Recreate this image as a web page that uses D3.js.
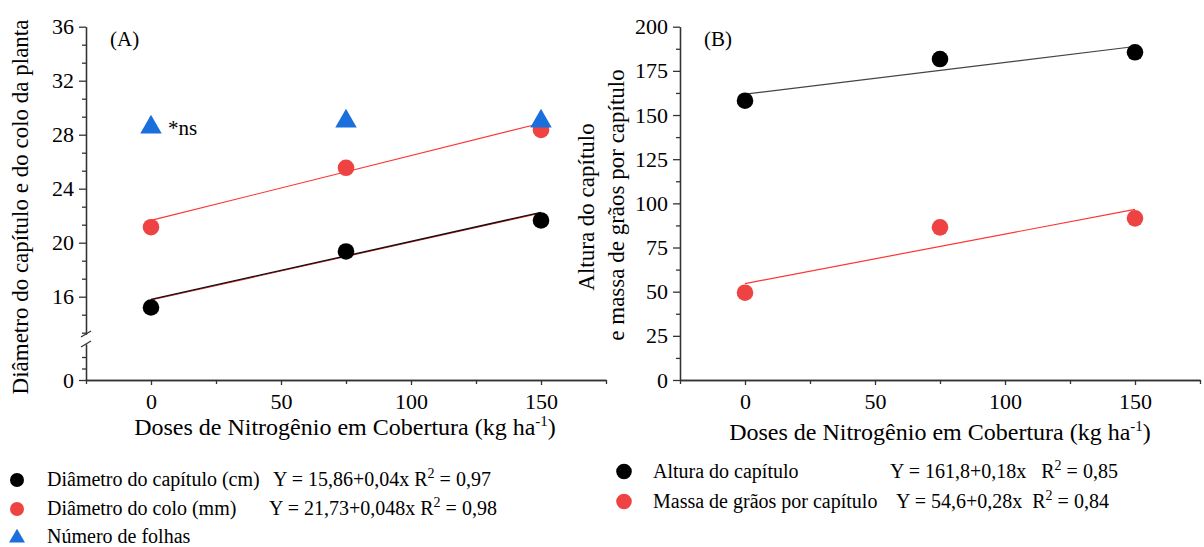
<!DOCTYPE html>
<html>
<head>
<meta charset="utf-8">
<script src="https://cdn.jsdelivr.net/npm/d3@7"></script>
<style>
body { margin: 0; background: #fff; }
svg text { font-family: "Liberation Serif", "Times New Roman", serif; fill: #000; }
.axis path, .axis line { stroke: #333; stroke-width: 1.3; }
</style>
</head>
<body>
<div id="chart"></div>
<script>
// doses (kg ha-1)
var doses = [0, 75, 150];
// panel A
var diamCapitulo = [15.2, 19.35, 21.65];
var diamColo = [21.15, 25.55, 28.35];
var numFolhas = [28.55, 29.0, 29.0];
var fitCapitulo = [15.8, 22.25];
var fitColo = [21.65, 28.85];
// panel B
var alturaCapitulo = [158.1, 181.7, 185.5];
var massaGraos = [49.4, 86.4, 91.5];
var fitAltura = [161.8, 188.8];
var fitMassa = [54.6, 96.6];
// ticks
var xTicks = [0, 50, 100, 150];
var xMinor = [-25, 25, 75, 125, 175];
var yTicksA = [16, 20, 24, 28, 32, 36];
var yTicksB = [0, 25, 50, 75, 100, 125, 150, 175, 200];
// legends
var legendA = ["Diâmetro do capítulo (cm)", "Diâmetro do colo (mm)", "Número de folhas"];
var eqA = [["Y = 15,86+0,04x R", " = 0,97"], ["Y = 21,73+0,048x R", " = 0,98"]];
var legendB = ["Altura do capítulo", "Massa de grãos por capítulo"];
var eqB = [["Y = 161,8+0,18x   R", " = 0,85"], ["Y = 54,6+0,28x  R", " = 0,84"]];

var width = 1204, height = 547;
var black = "#000", red = "#ef4343", blue = "#1b6fdc";
var serif = "'Liberation Serif', 'Times New Roman', serif";

var svg = d3.select("#chart").append("svg")
    .attr("width", width)
    .attr("height", height)
    .attr("font-family", serif);

// ---------- panel A ----------
var xA = d3.scaleLinear().domain([-25, 175]).range([86, 606]);
var yA = d3.scaleLinear().domain([16, 36]).range([296.7, 26.7]);
var breakTop = 334, breakBot = 344;
var yAaxis = yA.copy().domain([yA.invert(breakTop), 36]).range([breakTop, 26.7]);
var yLow = d3.scaleLinear().domain([0, 3]).range([380, 345.5]);
var yLowAxis = yLow.copy().domain([0, yLow.invert(breakBot)]).range([380, breakBot]);

function styleAxis(g, size) {
    g.attr("class", "axis").attr("font-family", serif).attr("font-size", size);
    g.selectAll("text").style("font-size", size + "px").style("fill", "#000")
        .style("font-family", serif);
}

var minorA = d3.range(36, 13, -4 / 3).filter(function (v) {
    return Math.abs(v - Math.round(v / 4) * 4) > 0.01;
});

svg.append("g").attr("transform", "translate(86,0)")
    .call(d3.axisLeft(yAaxis).tickValues(yTicksA).tickSize(7).tickSizeOuter(0).tickPadding(5))
    .call(styleAxis, 22);
svg.append("g").attr("transform", "translate(86,0)")
    .call(d3.axisLeft(yAaxis).tickValues(minorA).tickSize(4).tickSizeOuter(0).tickFormat(""))
    .call(styleAxis, 22);
svg.append("g").attr("transform", "translate(86,0)")
    .call(d3.axisLeft(yLowAxis).tickValues([0]).tickFormat(d3.format("d"))
        .tickSize(7).tickSizeOuter(0).tickPadding(5))
    .call(styleAxis, 22);
svg.append("g").attr("transform", "translate(86,0)")
    .call(d3.axisLeft(yLowAxis).tickValues([1, 2]).tickSize(4).tickSizeOuter(0).tickFormat(""))
    .call(styleAxis, 22);

// break marks
[breakTop, breakBot].forEach(function (by) {
    svg.append("line")
        .attr("x1", 81).attr("y1", by + 3)
        .attr("x2", 91).attr("y2", by - 3)
        .attr("stroke", "#333").attr("stroke-width", 1.3);
});

svg.append("g").attr("transform", "translate(0,380)")
    .call(d3.axisBottom(xA).tickValues(xTicks).tickSize(5).tickSizeOuter(0).tickPadding(8))
    .call(styleAxis, 22);
svg.append("g").attr("transform", "translate(0,380)")
    .call(d3.axisBottom(xA).tickValues(xMinor).tickSize(4).tickSizeOuter(0).tickFormat(""))
    .call(styleAxis, 22);

// fitted lines A
svg.append("line")
    .attr("x1", xA(doses[0])).attr("y1", yA(fitColo[0]))
    .attr("x2", xA(doses[2])).attr("y2", yA(fitColo[1]))
    .attr("stroke", "#f33").attr("stroke-width", 1.2);
svg.append("line")
    .attr("x1", xA(doses[0])).attr("y1", yA(fitCapitulo[0]) + 0.6)
    .attr("x2", xA(doses[2])).attr("y2", yA(fitCapitulo[1]) + 0.6)
    .attr("stroke", "#d22").attr("stroke-width", 1.2);
svg.append("line")
    .attr("x1", xA(doses[0])).attr("y1", yA(fitCapitulo[0]))
    .attr("x2", xA(doses[2])).attr("y2", yA(fitCapitulo[1]))
    .attr("stroke", "#111").attr("stroke-width", 1.3);

// points
function dots(xs, ys, vals, color, r) {
    svg.append("g").selectAll("circle")
        .data(vals).enter().append("circle")
        .attr("cx", function (d, i) { return xs(doses[i]); })
        .attr("cy", function (d) { return ys(d); })
        .attr("r", r)
        .attr("fill", color);
}
dots(xA, yA, diamCapitulo, black, 8.3);
dots(xA, yA, diamColo, red, 8.3);
var tri = d3.symbol().type(d3.symbolTriangle).size(200);
svg.append("g").selectAll("path")
    .data(numFolhas).enter().append("path")
    .attr("d", tri)
    .attr("transform", function (d, i) {
        return "translate(" + xA(doses[i]) + "," + yA(d) + ")";
    })
    .attr("fill", blue);

svg.append("text").attr("x", xA(doses[0]) + 17).attr("y", 135)
    .style("font-size", "21px").text("*ns");
svg.append("text").attr("x", 110).attr("y", 46)
    .style("font-size", "21px").text("(A)");

// axis titles A
svg.append("text")
    .attr("transform", "translate(28,207)rotate(-90)")
    .attr("text-anchor", "middle")
    .style("font-size", "23px")
    .text("Diâmetro do capítulo e do colo da planta");

function xTitle(cx, cy) {
    var t = svg.append("text").attr("x", cx).attr("y", cy)
        .attr("text-anchor", "middle").style("font-size", "24px");
    t.append("tspan").text("Doses de Nitrogênio em Cobertura (kg ha");
    t.append("tspan").attr("dy", -9).style("font-size", "15px").text("-1");
    t.append("tspan").attr("dy", 9).text(")");
}
xTitle(345, 435);

// ---------- panel B ----------
var xB = d3.scaleLinear().domain([-25, 175]).range([680, 1200]);
var yB = d3.scaleLinear().domain([0, 200]).range([380, 26.7]);

svg.append("g").attr("transform", "translate(680,0)")
    .call(d3.axisLeft(yB).tickValues(yTicksB).tickSize(7).tickSizeOuter(0).tickPadding(5))
    .call(styleAxis, 22);
svg.append("g").attr("transform", "translate(680,0)")
    .call(d3.axisLeft(yB).tickValues(d3.range(12.5, 200, 25)).tickSize(4).tickSizeOuter(0).tickFormat(""))
    .call(styleAxis, 22);
svg.append("g").attr("transform", "translate(0,380)")
    .call(d3.axisBottom(xB).tickValues(xTicks).tickSize(5).tickSizeOuter(0).tickPadding(8))
    .call(styleAxis, 22);
svg.append("g").attr("transform", "translate(0,380)")
    .call(d3.axisBottom(xB).tickValues(xMinor).tickSize(4).tickSizeOuter(0).tickFormat(""))
    .call(styleAxis, 22);

svg.append("line")
    .attr("x1", xB(doses[0])).attr("y1", yB(fitAltura[0]))
    .attr("x2", xB(doses[2])).attr("y2", yB(fitAltura[1]))
    .attr("stroke", "#444").attr("stroke-width", 1.2);
svg.append("line")
    .attr("x1", xB(doses[0])).attr("y1", yB(fitMassa[0]))
    .attr("x2", xB(doses[2])).attr("y2", yB(fitMassa[1]))
    .attr("stroke", "#f33").attr("stroke-width", 1.2);

dots(xB, yB, alturaCapitulo, black, 8.3);
dots(xB, yB, massaGraos, red, 8.3);

svg.append("text").attr("x", 704).attr("y", 46)
    .style("font-size", "21px").text("(B)");

svg.append("text")
    .attr("transform", "translate(594,207)rotate(-90)")
    .attr("text-anchor", "middle")
    .style("font-size", "23px")
    .text("Altura do capítulo");
svg.append("text")
    .attr("transform", "translate(624,205)rotate(-90)")
    .attr("text-anchor", "middle")
    .style("font-size", "23px")
    .text("e massa de grãos por capítulo");
xTitle(940, 440);

// ---------- legends ----------
function eqText(x, y, parts) {
    var t = svg.append("text").attr("x", x).attr("y", y)
        .style("font-size", "20px").style("white-space", "pre");
    t.append("tspan").text(parts[0]);
    t.append("tspan").attr("dy", -8).style("font-size", "14px").text("2");
    t.append("tspan").attr("dy", 8).text(parts[1]);
}

var rowsA = [480, 509, 537];
[black, red].forEach(function (c, i) {
    svg.append("circle").attr("cx", 17).attr("cy", rowsA[i]).attr("r", 7).attr("fill", c);
});
svg.append("path")
    .attr("d", d3.symbol().type(d3.symbolTriangle).size(110))
    .attr("transform", "translate(17," + (rowsA[2] + 1) + ")")
    .attr("fill", blue);
legendA.forEach(function (s, i) {
    svg.append("text").attr("x", 47).attr("y", rowsA[i] + 6)
        .style("font-size", "20px").text(s);
});
eqText(273, rowsA[0] + 6, eqA[0]);
eqText(269, rowsA[1] + 6, eqA[1]);

var rowsB = [471.5, 501.5];
[black, red].forEach(function (c, i) {
    svg.append("circle").attr("cx", 624).attr("cy", rowsB[i]).attr("r", 7.8).attr("fill", c);
});
legendB.forEach(function (s, i) {
    svg.append("text").attr("x", 653).attr("y", rowsB[i] + 6)
        .style("font-size", "20px").text(s);
});
eqText(890, rowsB[0] + 6, eqB[0]);
eqText(896, rowsB[1] + 6, eqB[1]);
</script>
</body>
</html>
